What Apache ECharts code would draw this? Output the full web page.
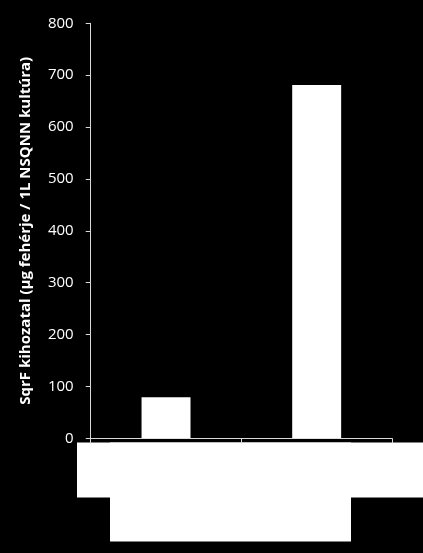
<!DOCTYPE html>
<html>
<head>
<meta charset="utf-8">
<script src="https://cdn.jsdelivr.net/npm/echarts@6/dist/echarts.min.js"></script>
<style>
  html, body { margin: 0; padding: 0; background: #000; }
  #main { width: 423px; height: 553px; }
</style>
</head>
<body>
<div id="main"></div>
<script>
// adatok
const categories = ['A', 'B']
const yields = [79, 681]
const yTicks = [0, 100, 200, 300, 400, 500, 600, 700, 800]

const chart = echarts.init(document.querySelector('#main'))
chart.setOption({
  backgroundColor: '#000',
  animation: false,
  grid: { left: 90.7, right: 31, top: 23.3, bottom: 114.7 },
  xAxis: {
    type: 'category',
    data: categories,
    axisLine: { lineStyle: { color: '#d9d9d9', width: 1 } },
    axisTick: { show: true, length: 5, lineStyle: { color: '#d9d9d9' } },
    axisLabel: { show: false }
  },
  yAxis: {
    type: 'value',
    min: yTicks[0],
    max: yTicks[yTicks.length - 1],
    interval: 100,
    name: 'SqrF kihozatal (µg fehérje / 1L NSQNN kultúra)',
    nameLocation: 'middle',
    nameGap: 57,
    nameTextStyle: { color: '#fff', fontFamily: 'Open Sans', fontWeight: 'bold', fontSize: 15 },
    axisLine: { show: true, lineStyle: { color: '#d9d9d9', width: 1 } },
    axisTick: { show: true, length: 5, lineStyle: { color: '#d9d9d9' } },
    axisLabel: { color: '#fff', fontFamily: 'Open Sans', fontSize: 15, margin: 17 },
    splitLine: { show: false }
  },
  series: [
    {
      type: 'bar',
      data: yields,
      barWidth: '32.5%',
      itemStyle: { color: '#fff' }
    }
  ],
  // fehér takaró téglalapok a kategórianevek helyén
  graphic: [
    { type: 'rect', shape: { x: 77, y: 442.5, width: 346, height: 55 }, style: { fill: '#fff' } },
    { type: 'rect', shape: { x: 110, y: 442.5, width: 241, height: 99 }, style: { fill: '#fff' } }
  ]
})
</script>
</body>
</html>
